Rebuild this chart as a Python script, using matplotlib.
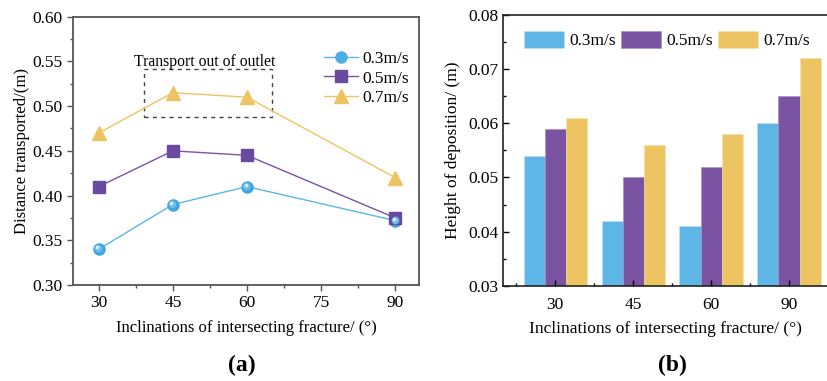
import matplotlib
matplotlib.use("Agg")
import matplotlib.pyplot as plt
import matplotlib.transforms as mtransforms
from matplotlib.patches import Rectangle
from matplotlib.lines import Line2D
import numpy as np

plt.rcParams['font.family'] = ['Liberation Serif', 'DejaVu Serif']
plt.rcParams['font.size'] = 12

# ---- data ----
speeds = ["0.3m/s", "0.5m/s", "0.7m/s"]
angles_a = [30, 45, 60, 90]
dist_03 = [0.34, 0.39, 0.41, 0.372]
dist_05 = [0.41, 0.45, 0.445, 0.375]
dist_07 = [0.47, 0.515, 0.51, 0.42]

angle_labels_b = ["30", "45", "60", "90"]
height_03 = [0.054, 0.042, 0.041, 0.060]
height_05 = [0.059, 0.050, 0.052, 0.065]
height_07 = [0.061, 0.056, 0.058, 0.072]

c_blue = "#5EB6E6"
c_purple = "#7A54A2"
c_yellow = "#ECC462"

fig = plt.figure(figsize=(8.28, 3.81), dpi=100)

# ---- panel (a) ----
axa = fig.add_axes([73 / 828, 1 - 285 / 381, (419 - 73) / 828, (285 - 16.7) / 381])
spine_col = "#555555"
for s in axa.spines.values():
    s.set_color(spine_col)
    s.set_linewidth(1.3)

# shaded sphere markers: base disc plus two offset highlight layers
axa.plot(angles_a, dist_03, color=c_blue, lw=1, marker='o', ms=8,
         mfc="#3FA5E0", mec="#3FA5E0", zorder=3)
hl = mtransforms.offset_copy(axa.transData, fig=fig, x=-0.5, y=0.6, units='points')
axa.plot(angles_a, dist_03, ls='none', marker='o', ms=5.5, mfc="#6EBDEB",
         mec='none', transform=hl, zorder=4)
hl2 = mtransforms.offset_copy(axa.transData, fig=fig, x=-1.0, y=1.3, units='points')
axa.plot(angles_a, dist_03, ls='none', marker='o', ms=2.6, mfc="#D8F0FC",
         mec='none', transform=hl2, zorder=5)
axa.plot(angles_a, dist_05, color=c_purple, lw=1, marker='s', ms=8.5,
         mfc="#6A4A9E", mec="#6A4A9E", zorder=3)
axa.plot(angles_a, dist_07, color=c_yellow, lw=1, marker='^', ms=10,
         mfc=c_yellow, mec=c_yellow, zorder=3)

axa.set_xlim(24.8, 94.8)
axa.set_ylim(0.30, 0.60)
axa.set_xticks([30, 45, 60, 75, 90])
axa.set_xticks([37.5, 52.5, 67.5, 82.5], minor=True)
axa.set_yticks(np.arange(0.30, 0.601, 0.05))
axa.set_yticks(np.arange(0.325, 0.60, 0.05), minor=True)
axa.yaxis.set_major_formatter(matplotlib.ticker.FormatStrFormatter('%.2f'))
axa.tick_params(which='both', direction='out', color=spine_col, labelsize=12.5)
axa.tick_params(which='major', length=4, width=1)
axa.tick_params(which='minor', length=2.5, width=1)
axa.set_xlabel("Inclinations of intersecting fracture/ (°)", fontsize=12, labelpad=6)
axa.set_ylabel("Distance transported/(m)", fontsize=12, labelpad=2)

axa.add_patch(Rectangle((39.2, 0.4875), 25.8, 0.054, fill=False, ls=(0, (3, 3)),
                        lw=1, ec="#444444", zorder=2))
axa.text(51.5, 0.5495, "Transport out of outlet", ha='center', va='center', fontsize=11.3)

handles_a = [
    Line2D([], [], color=c_blue, lw=1, marker='o', ms=8, mfc="#4DAEE5", mec="#4DAEE5"),
    Line2D([], [], color=c_purple, lw=1, marker='s', ms=8, mfc="#6A4A9E", mec="#6A4A9E"),
    Line2D([], [], color=c_yellow, lw=1, marker='^', ms=10, mfc=c_yellow, mec=c_yellow),
]
axa.legend(handles_a, speeds, loc='upper right', bbox_to_anchor=(1.0, 0.912),
           frameon=False, fontsize=12.5, handlelength=2.0, handletextpad=0.2,
           labelspacing=0.2, borderaxespad=0.2)

fig.text(241.7 / 828, 1 - 365 / 381, "(a)", ha='center', va='center',
         fontsize=17, fontweight='bold')

# ---- panel (b) ----
axb = fig.add_axes([503.3 / 828, 1 - 286 / 381, (828 - 503.3) / 828, (286 - 14.7) / 381])
for s in axb.spines.values():
    s.set_color("#222222")
    s.set_linewidth(1.2)

x = np.arange(len(angle_labels_b))
w = 0.27
axb.bar(x - w, height_03, width=w, color=c_blue, label=speeds[0], edgecolor='#BFE3F7', lw=0.4)
axb.bar(x, height_05, width=w, color=c_purple, label=speeds[1], edgecolor='#A58CC4', lw=0.4)
axb.bar(x + w, height_07, width=w, color=c_yellow, label=speeds[2], edgecolor='#F7E2A8', lw=0.4)

axb.set_xlim(-0.665, 3.5)
axb.set_ylim(0.03, 0.08)
axb.set_xticks(x)
axb.set_xticklabels(angle_labels_b)
axb.set_xticks([-0.5, 0.5, 1.5, 2.5, 3.5], minor=True)
axb.set_yticks(np.arange(0.03, 0.0801, 0.01))
axb.set_yticks(np.arange(0.035, 0.08, 0.01), minor=True)
axb.yaxis.set_major_formatter(matplotlib.ticker.FormatStrFormatter('%.2f'))
axb.tick_params(which='both', direction='in', labelsize=12.5)
axb.tick_params(which='major', length=4, width=1)
axb.tick_params(which='minor', length=2.5, width=1)
axb.tick_params(axis='x', which='major', pad=8)
axb.set_xlabel("Inclinations of intersecting fracture/ (°)", fontsize=12.5, labelpad=6)
axb.set_ylabel("Height of deposition/ (m)", fontsize=12.5, labelpad=5)
axb.legend(loc='upper left', ncol=3, frameon=False, fontsize=12.5,
           handlelength=2.3, handleheight=1.15, handletextpad=0.3,
           columnspacing=0.3, bbox_to_anchor=(0.033, 0.98), borderaxespad=0.2)

fig.text(672 / 828, 1 - 365 / 381, "(b)", ha='center', va='center',
         fontsize=17, fontweight='bold')

fig.savefig("out.png", dpi=100)
